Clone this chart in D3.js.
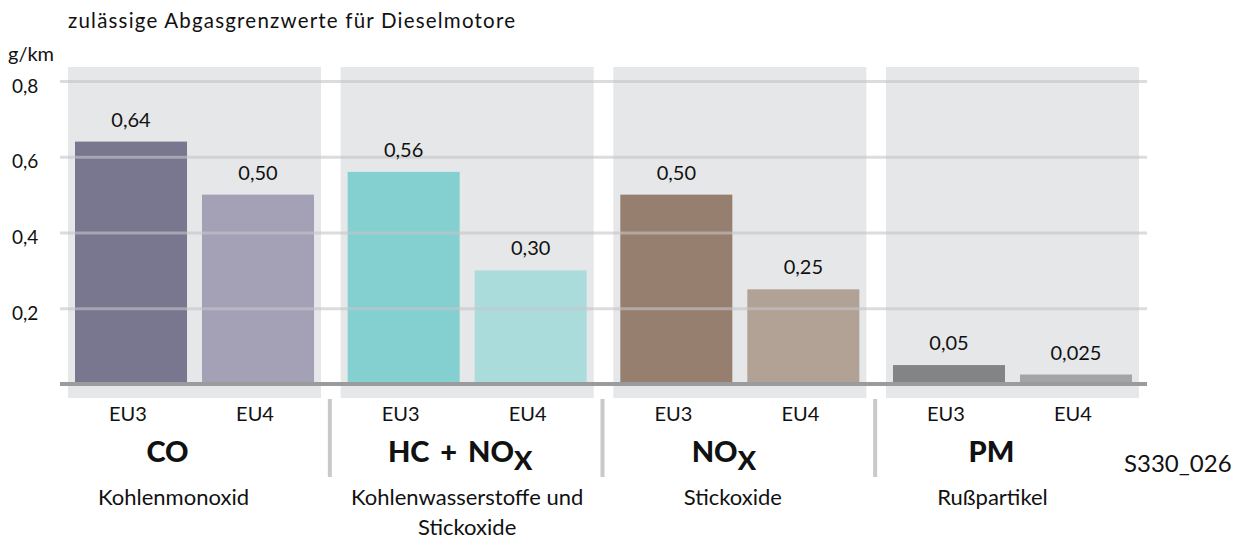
<!DOCTYPE html>
<html>
<head>
<meta charset="utf-8">
<script src="https://cdn.jsdelivr.net/npm/d3@7"></script>
<style>
    body { margin: 0; background: #fff; }
    svg { display: block; font-family: Lato, "Open Sans", sans-serif; }
</style>
</head>
<body>
<svg id="chart" width="1235" height="540"></svg>
<script>
// data
var groups = ["CO", "HC + NOX", "NOX", "PM"];
var groupMain = ["CO", "HC + NO", "NO", "PM"];
var groupSub = ["", "X", "X", ""];
var groupDesc = [["Kohlenmonoxid"], ["Kohlenwasserstoffe und", "Stickoxide"], ["Stickoxide"], ["Rußpartikel"]];
var norms = ["EU3", "EU4"];
var eu3Values = [0.64, 0.56, 0.50, 0.05];
var eu4Values = [0.50, 0.30, 0.25, 0.025];
var valueLabels = [["0,64", "0,50"], ["0,56", "0,30"], ["0,50", "0,25"], ["0,05", "0,025"]];
var yTicks = [0.2, 0.4, 0.6, 0.8];
var yTickLabels = ["0,2", "0,4", "0,6", "0,8"];
var barColors = [["#79768f", "#a4a1b6"], ["#84d0d0", "#abdcdc"], ["#977f6f", "#b2a195"], ["#838486", "#a3a4a6"]];

var TITLE = "zulässige Abgasgrenzwerte für Dieselmotore";
var UNIT = "g/km";
var CODE = "S330_026";

var PANEL_TOP = 67;
var PANEL_BOTTOM = 398;
var BASE_Y = 384;
var PANEL_FILL = "#e6e7e9";

var svg = d3.select("#chart");

var x0 = d3.scaleBand().domain(groups).range([68, 1139]).paddingInner(0.072);
var x1 = d3.scaleBand().domain(norms).range([7, x0.bandwidth() - 7]).paddingInner(0.118);
var y = d3.scaleLinear().domain([0, 0.8]).range([BASE_Y, 81]);

// title + unit
svg.append("text").attr("x", 68).attr("y", 28).attr("font-size", 20.5)
    .attr("letter-spacing", 1.2).attr("fill", "#111").text(TITLE);
svg.append("text").attr("x", 8).attr("y", 61).attr("font-size", 20).attr("fill", "#111").text(UNIT);

// grey panels behind each group
svg.append("g").selectAll("rect").data(groups).enter().append("rect")
    .attr("x", function (d) { return x0(d); })
    .attr("y", PANEL_TOP)
    .attr("width", x0.bandwidth())
    .attr("height", PANEL_BOTTOM - PANEL_TOP)
    .attr("fill", PANEL_FILL);

// bars
var rows = groups.map(function (g, i) {
    return [
        {group: g, norm: "EU3", value: eu3Values[i], label: valueLabels[i][0], color: barColors[i][0]},
        {group: g, norm: "EU4", value: eu4Values[i], label: valueLabels[i][1], color: barColors[i][1]}
    ];
});
var allBars = [].concat.apply([], rows);

var gBars = svg.append("g");
gBars.selectAll("rect").data(allBars).enter().append("rect")
    .attr("x", function (d) { return x0(d.group) + x1(d.norm); })
    .attr("y", function (d) { return y(d.value); })
    .attr("width", x1.bandwidth())
    .attr("height", function (d) { return BASE_Y - y(d.value); })
    .attr("fill", function (d) { return d.color; });

// grid lines, half transparent so they show over the bars
var yAxis = d3.axisLeft(y).tickValues(yTicks).tickSize(-(1147 - 60)).tickFormat("");
var gGrid = svg.append("g").attr("transform", "translate(60,0)").call(yAxis);
gGrid.select(".domain").remove();
gGrid.selectAll(".tick line").attr("stroke", "#c4c5c9").attr("stroke-width", 3).attr("opacity", 0.6);

svg.append("g").selectAll("text").data(yTicks).enter().append("text")
    .attr("x", 12)
    .attr("y", function (d) { return y(d) + 4; })
    .attr("dominant-baseline", "central")
    .attr("font-size", 19)
    .attr("fill", "#111")
    .text(function (d, i) { return yTickLabels[i]; });

// base line
svg.append("line").attr("x1", 60).attr("x2", 1147).attr("y1", BASE_Y).attr("y2", BASE_Y)
    .attr("stroke", "#9a9b9d").attr("stroke-width", 4);

// value labels
svg.append("g").selectAll("text").data(allBars).enter().append("text")
    .attr("x", function (d) { return x0(d.group) + x1(d.norm) + x1.bandwidth() / 2; })
    .attr("y", function (d) { return y(d.value) - 15; })
    .attr("text-anchor", "middle")
    .attr("font-size", 20)
    .attr("fill", "#111")
    .text(function (d) { return d.label; });

// EU3 / EU4 under the bars
svg.append("g").selectAll("text").data(allBars).enter().append("text")
    .attr("x", function (d) { return x0(d.group) + x1(d.norm) + x1.bandwidth() / 2 - 3; })
    .attr("y", 421)
    .attr("text-anchor", "middle")
    .attr("font-size", 20)
    .attr("fill", "#111")
    .text(function (d) { return d.norm; });

// separators between the groups
var sepX = groups.slice(1).map(function (g) { return x0(g) - x0.step() * 0.072 / 2 - 1; });
svg.append("g").selectAll("line").data(sepX).enter().append("line")
    .attr("x1", function (d) { return d; }).attr("x2", function (d) { return d; })
    .attr("y1", 399).attr("y2", 477)
    .attr("stroke", "#c8c9cb").attr("stroke-width", 4);

// group names (bold) + description
var nameShift = [-27, -7, -16, -21];
var descShift = [-21, 0, -7, -20];

var gNames = svg.append("g");
groups.forEach(function (g, i) {
    var cx = x0(g) + x0.bandwidth() / 2;
    var t = gNames.append("text")
        .attr("x", cx + nameShift[i])
        .attr("y", 462)
        .attr("text-anchor", "middle")
        .attr("font-size", 29)
        .attr("font-weight", "900")
        .attr("word-spacing", 4)
        .attr("fill", "#111");
    t.append("tspan").text(groupMain[i]);
    if (groupSub[i]) {
        t.append("tspan").attr("dy", 8).attr("font-size", 27).text(groupSub[i]);
    }
    groupDesc[i].forEach(function (line, k) {
        gNames.append("text")
            .attr("x", cx + descShift[i])
            .attr("y", 505 + k * 30)
            .attr("text-anchor", "middle")
            .attr("font-size", 22)
            .attr("fill", "#111")
            .text(line);
    });
});

svg.append("text").attr("x", 1124).attr("y", 472).attr("font-size", 24).attr("fill", "#111").text(CODE);
</script>
</body>
</html>
